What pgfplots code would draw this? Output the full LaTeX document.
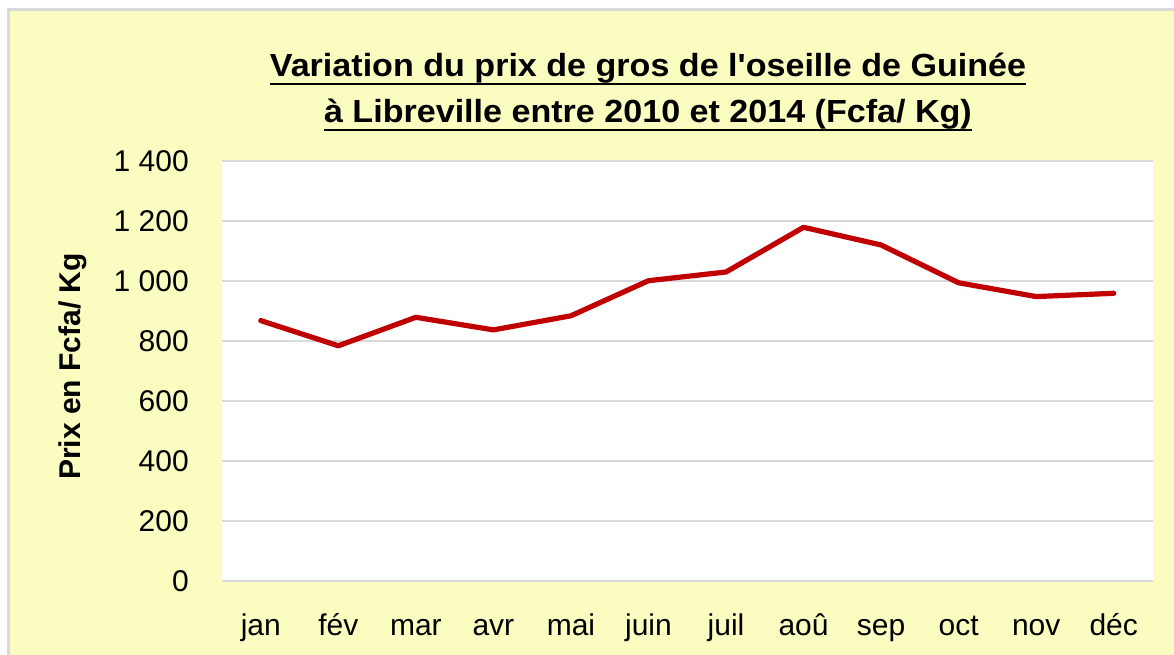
\documentclass[border=0pt]{standalone}
\usepackage{pgfplots}
\pgfplotsset{compat=1.18}
\usepackage{fontspec}
\setmainfont{Liberation Sans}[Ligatures=TeXOff]
\definecolor{bgyellow}{RGB}{250,252,192}
\definecolor{gridgray}{RGB}{217,217,217}
\definecolor{linered}{RGB}{192,0,0}
\begin{document}
\begin{tikzpicture}[x=1pt,y=1pt]
\useasboundingbox (0,0) rectangle (1174,655);
\fill[white] (0,0) rectangle (1174,655);
\fill[bgyellow] (8,0) rectangle (1174,645);
\draw[gridgray, line width=3pt] (8,0) -- (8,645) -- (1174,645);
\begin{axis}[
  at={(222pt,74pt)}, anchor=south west,
  scale only axis, width=930.5pt, height=420pt,
  xmin=-0.5, xmax=11.5, ymin=0, ymax=1400,
  axis background/.style={fill=white},
  axis line style={draw=none},
  tick style={draw=none},
  ytick={0,200,400,600,800,1000,1200,1400},
  yticklabels={0,200,400,600,800,1 000,1 200,1 400},
  xtick={0,...,11},
  xticklabels={jan,fév,mar,avr,mai,juin,juil,aoû,sep,oct,nov,déc},
  ymajorgrids,
  grid style={gridgray, line width=2pt},
  yticklabel style={font=\fontsize{30}{36}\selectfont, inner sep=0pt, anchor=east, xshift=-33pt},
  xticklabel style={font=\fontsize{30}{36}\selectfont, inner sep=0pt, anchor=north, text height=22pt, text depth=6pt, yshift=-32pt},
  clip=false,
]
\addplot[linered, line width=5.2pt, line cap=round, line join=round] coordinates {
(0,868) (1,784) (2,879) (3,837) (4,884) (5,1001) (6,1030) (7,1179) (8,1120) (9,994) (10,948) (11,959)
};
\end{axis}
\node[anchor=base, inner sep=0pt, font=\bfseries\fontsize{32}{36}\selectfont] (t1) at (648,578) {\scalebox{1.065}[1]{Variation du prix de gros de l'oseille de Guinée}};
\node[anchor=base, inner sep=0pt, font=\bfseries\fontsize{32}{36}\selectfont] (t2) at (648,532) {\scalebox{1.065}[1]{à Libreville entre 2010 et 2014 (Fcfa/ Kg)}};
\draw[black, line width=2.3pt] ([yshift=-7pt]t1.base west) -- ([yshift=-7pt]t1.base east);
\draw[black, line width=2.3pt] ([yshift=-7pt]t2.base west) -- ([yshift=-7pt]t2.base east);
\node[rotate=90, inner sep=0pt, font=\bfseries\fontsize{30}{36}\selectfont] at (73,288.5) {Prix en Fcfa/ Kg};
\end{tikzpicture}
\end{document}
